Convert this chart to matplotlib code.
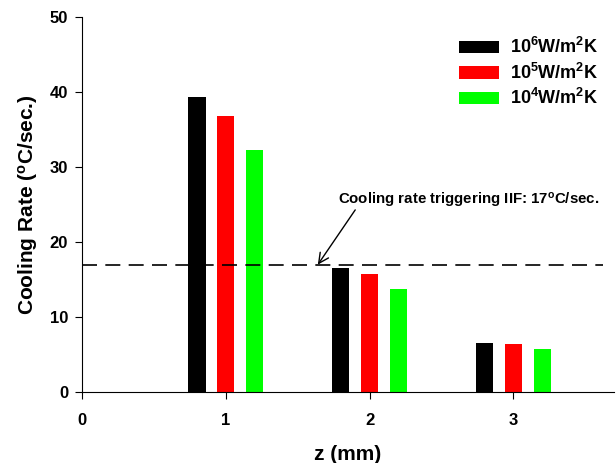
import matplotlib
matplotlib.use("Agg")
import matplotlib.pyplot as plt
import numpy as np

plt.rcParams['font.family'] = 'Liberation Sans'
plt.rcParams['font.weight'] = 'bold'
plt.rcParams['axes.labelweight'] = 'bold'
plt.rcParams['mathtext.fontset'] = 'custom'
plt.rcParams['mathtext.rm'] = 'Liberation Sans:bold'
plt.rcParams['mathtext.it'] = 'Liberation Sans:bold'
plt.rcParams['mathtext.bf'] = 'Liberation Sans:bold'
plt.rcParams['mathtext.default'] = 'rm'

z = [1, 2, 3]
h6 = [39.3, 16.5, 6.5]
h5 = [36.8, 15.7, 6.4]
h4 = [32.3, 13.7, 5.7]
labels = ['10$^6$W/m$^2$K', '10$^5$W/m$^2$K', '10$^4$W/m$^2$K']
colors = ['#000000', '#ff0000', '#00ff00']
iif_rate = 17
xticks = [0, 1, 2, 3]
yticks = [0, 10, 20, 30, 40, 50]

fig = plt.figure(figsize=(6.16, 4.63), dpi=100)
ax = fig.add_axes([0.133, 0.153, 0.864, 0.81])

x = np.array(z)
w = 0.12
for off, vals, lab, col in zip([-0.2, 0, 0.2], [h6, h5, h4], labels, colors):
    ax.bar(x + off, vals, w, color=col, label=lab)

ax.plot([0, 3.62], [iif_rate, iif_rate], color='black', lw=1.2, dashes=(9, 5))
ax.text(1.78, 25.6, 'Cooling rate triggering IIF: 17$^o$C/sec.', fontsize=10.8,
        fontweight='bold', va='center')
ax.annotate('', xy=(1.64, iif_rate), xytext=(1.9, 24.3),
            arrowprops=dict(arrowstyle='->', color='black', lw=1,
                            shrinkA=0, shrinkB=0, mutation_scale=18))

ax.set_xlim(0, 3.7)
ax.set_ylim(0, 50)
ax.set_xticks(xticks, labels=[str(t) for t in xticks], fontweight='bold', fontsize=12)
ax.set_yticks(yticks, labels=[str(t) for t in yticks], fontweight='bold', fontsize=12)
ax.tick_params(direction='out', length=5, pad=5)
ax.tick_params(axis='x', pad=10)
ax.spines['top'].set_visible(False)
ax.spines['right'].set_visible(False)
ax.set_xlabel('z (mm)', fontsize=15, fontweight='bold', labelpad=12)
ax.set_ylabel('Cooling Rate ($^o$C/sec.)', fontsize=15, fontweight='bold', labelpad=7)

ax.legend(loc='upper right', bbox_to_anchor=(1.0, 0.99), frameon=False,
          prop={'size': 13, 'weight': 'bold'}, handlelength=2.2,
          handleheight=0.7, labelspacing=0.3, handletextpad=0.6)

fig.savefig('out.png', dpi=100)
